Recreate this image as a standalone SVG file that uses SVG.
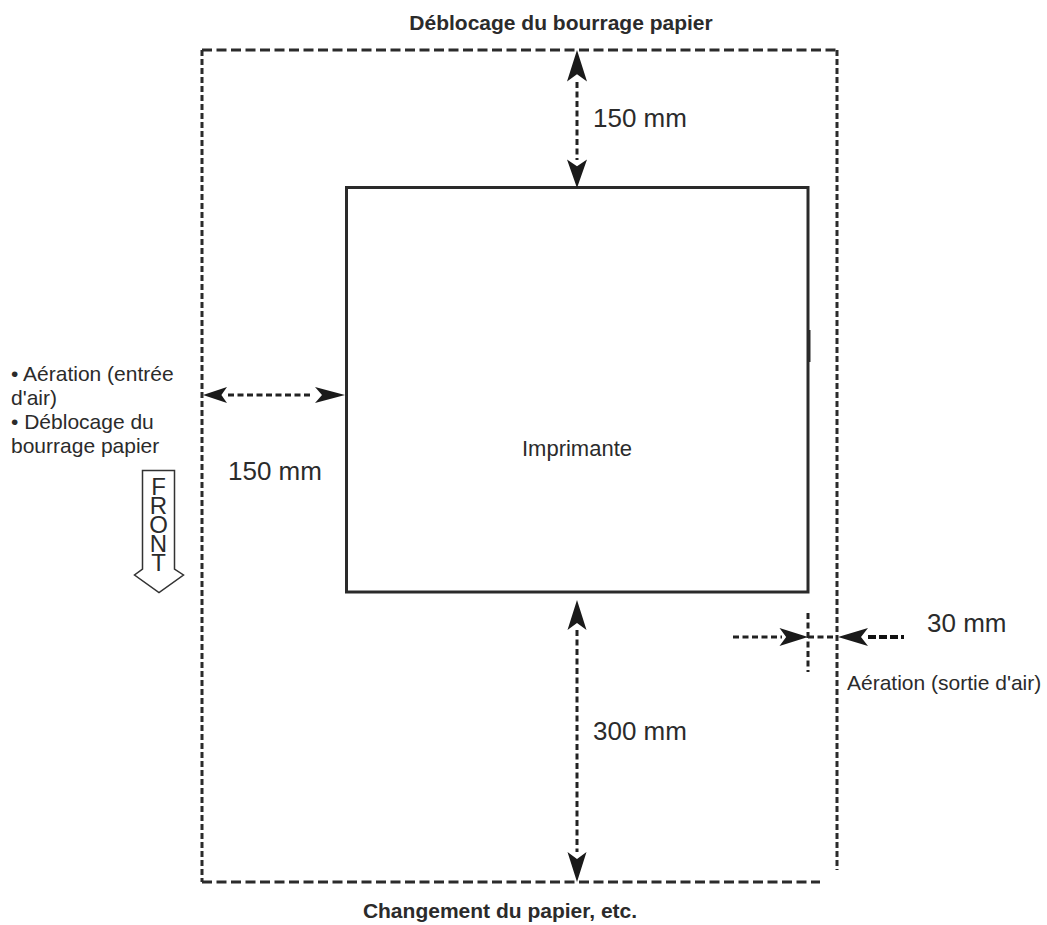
<svg xmlns="http://www.w3.org/2000/svg" xmlns:xlink="http://www.w3.org/1999/xlink" width="1047" height="925" viewBox="0 0 1047 925">
<style>
.t{font-family:"Liberation Sans",Arial,sans-serif;fill:#2b2b2b}
.b{font-weight:bold;font-size:21px}
.lbl{font-size:26px}
.sm{font-size:21px}
.ob{fill:none;stroke:#2b2b2b;stroke-width:3}
.dh{stroke-dasharray:10 4.5}
.dv{stroke-dasharray:6 3}
.dl{fill:none;stroke:#222;stroke-width:3;stroke-dasharray:6 3.5}
.ah{fill:#1a1a1a}
.vert{writing-mode:vertical-rl;text-orientation:upright}
</style>
<defs>
<path id="ah" d="M0,0 L-30,-10 L-23,0 L-30,10 Z"/>
</defs>
<rect width="1047" height="925" fill="#fff"/>
<text class="t b" x="561" y="30" text-anchor="middle">Déblocage du bourrage papier</text>
<text class="t b" x="500" y="918" text-anchor="middle">Changement du papier, etc.</text>
<g id="zone">
<path class="ob dh" d="M202,50 H837"/>
<path class="ob dv" d="M202,50 V882"/>
<path class="ob dh" d="M202,882 H820"/>
<path class="ob dv" d="M837,50 V870"/>
</g>
<g id="imprimante">
<rect x="346.5" y="187.5" width="461.5" height="404.5" fill="none" stroke="#2a2a2a" stroke-width="3"/>
<line x1="809" y1="330" x2="809" y2="362" stroke="#2a2a2a" stroke-width="3"/>
<text class="t" font-size="22" x="577" y="456" text-anchor="middle">Imprimante</text>
</g>
<g id="front">
<path d="M142.5,470.5 H174.5 V569 L183.5,575 L159,592.5 L134.5,575 L142.5,569 Z" fill="#fff" stroke="#333" stroke-width="1.5"/>
<text class="t vert" font-size="24" x="158.5" y="472.5" letter-spacing="-7.8">FRONT</text>
</g>
<g id="texte-gauche" class="t sm">
<text x="11" y="381">• Aération (entrée</text>
<text x="11" y="405">d'air)</text>
<text x="11" y="429">• Déblocage du</text>
<text x="11" y="453">bourrage papier</text>
</g>
<g id="connecteurs">
<line class="dl" x1="577" y1="82" x2="577" y2="160"/>
<use href="#ah" class="ah" transform="translate(577,50) rotate(-90) scale(1.05,1)"/>
<use href="#ah" class="ah" transform="translate(577,188) rotate(90) scale(0.95,1)"/>
<line class="dl" x1="228" y1="395" x2="313" y2="395" stroke-dasharray="7 4"/>
<use href="#ah" class="ah" transform="translate(203,395) rotate(180) scale(0.8)"/>
<use href="#ah" class="ah" transform="translate(345,395) scale(1,0.8)"/>
<line class="dl" x1="577" y1="630" x2="577" y2="852"/>
<use href="#ah" class="ah" transform="translate(577,600) rotate(-90) scale(1,0.95)"/>
<use href="#ah" class="ah" transform="translate(577,882) rotate(90) scale(1,0.95)"/>
<line class="dl" x1="808" y1="613" x2="808" y2="672"/>
<line class="dl" x1="733" y1="637" x2="782" y2="637" stroke-dasharray="8 4"/>
<use href="#ah" class="ah" transform="translate(808,637) scale(0.95,0.9)"/>
<line class="dl" x1="808" y1="637" x2="838" y2="637" stroke-dasharray="7 4"/>
<use href="#ah" class="ah" transform="translate(838,637) rotate(180) scale(1,0.9)"/>
<line x1="868" y1="637" x2="913" y2="637" stroke="#111" stroke-width="4" stroke-dasharray="8 3 8 3 8 3 3 100"/>
</g>
<text class="t lbl" x="593" y="127">150 mm</text>
<text class="t lbl" x="228" y="480">150 mm</text>
<text class="t lbl" x="593" y="740">300 mm</text>
<text class="t lbl" x="927" y="632">30 mm</text>
<text class="t sm" x="847" y="690">Aération (sortie d'air)</text>
</svg>
